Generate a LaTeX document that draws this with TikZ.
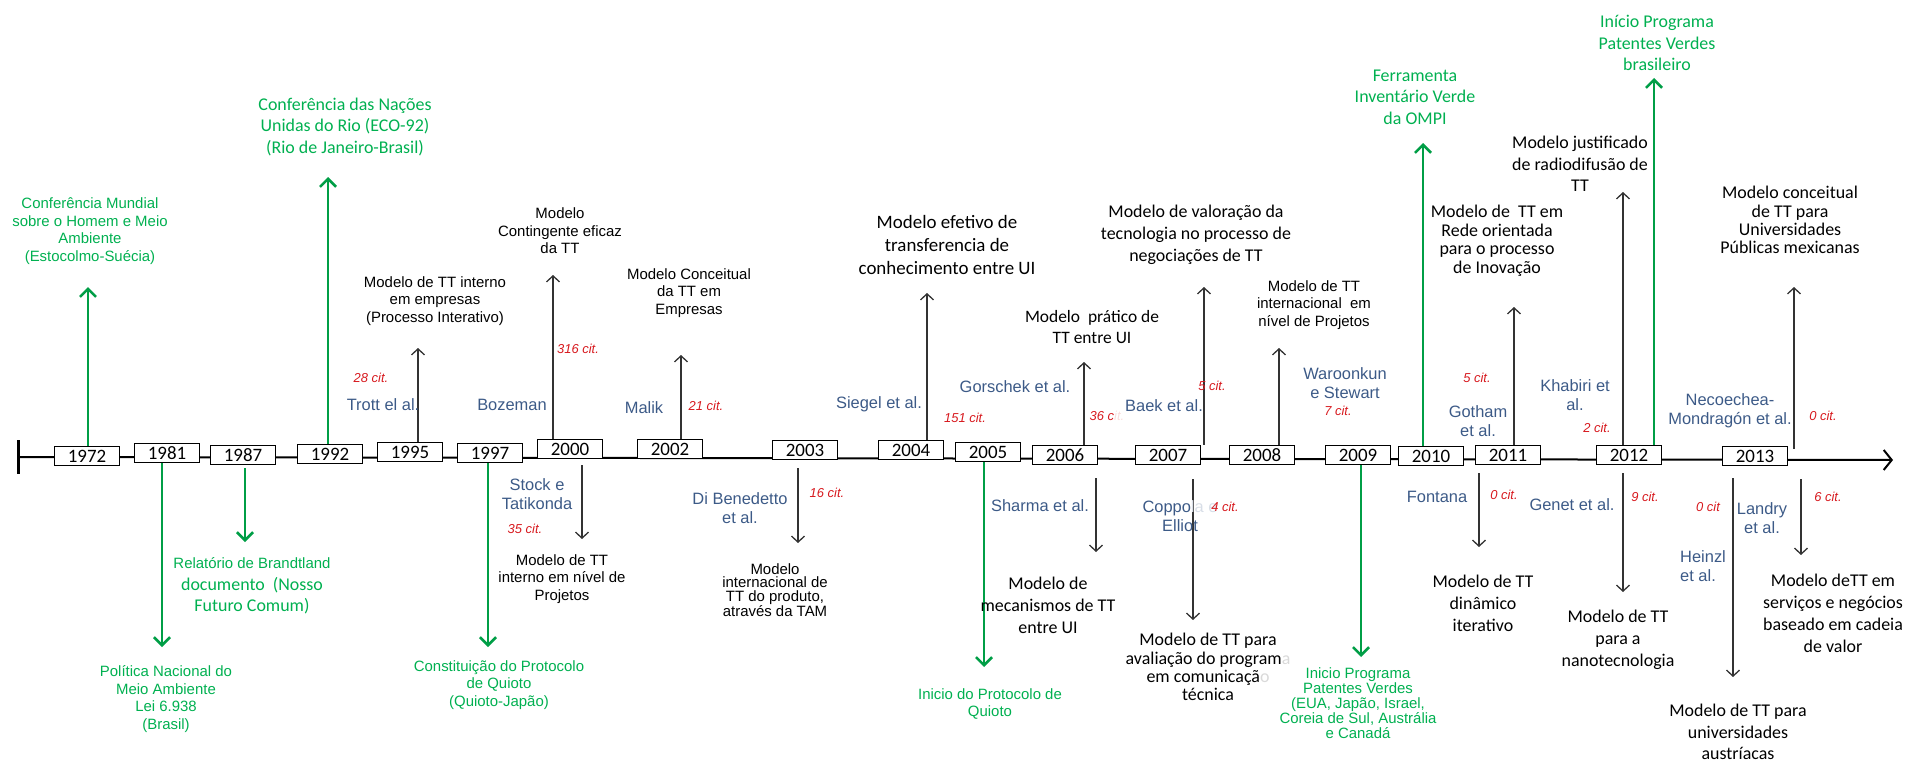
\documentclass[tikz,border=0pt]{standalone}
\usepackage{fontspec}
\usepackage{xcolor}
\usetikzlibrary{arrows.meta}
\newfontfamily\arialf{Liberation Sans}
\newfontfamily\calf{Carlito}
\definecolor{evgreen}{RGB}{0,176,80}
\definecolor{arrgreen}{RGB}{0,158,70}
\definecolor{autblue}{RGB}{60,90,135}
\definecolor{citred}{RGB}{215,25,30}

\begin{document}
\begin{tikzpicture}[x=1bp,y=-1bp]
    \tikzstyle{every node}=[inner sep=0pt]
    \tikzstyle{yearbox}=[draw, line width=1.2bp, fill=white, minimum width=65bp, minimum height=19bp, font=\calf\fontsize{19}{20}\selectfont]
    \tikzstyle{grnarr}=[-{Straight Barb[length=8bp,width=16bp]}, line width=2.6bp, draw=arrgreen]
    \tikzstyle{blkarr}=[-{Straight Barb[length=6bp,width=13bp]}, line width=1.3bp, draw=black!80]
    \tikzstyle{grntxt}=[text=evgreen, align=center, font=\arialf\fontsize{15}{17.5}\selectfont]
    \tikzstyle{grncal}=[text=evgreen, align=center, font=\calf\fontsize{18}{21.5}\selectfont]
    \tikzstyle{modtxt}=[align=center, font=\arialf\fontsize{15}{17.5}\selectfont]
    \tikzstyle{modcal}=[align=center, font=\calf\fontsize{18}{22}\selectfont]
    \tikzstyle{modsml}=[align=center, font=\calf\fontsize{18}{18.3}\selectfont]
    \tikzstyle{autor}=[text=autblue, align=center, font=\arialf\fontsize{16.5}{19.5}\selectfont]
    \tikzstyle{cit}=[text=citred, font=\arialf\itshape\fontsize{13}{15}\selectfont]

    \useasboundingbox (0,0) rectangle (1908,762);

    \coordinate (axL) at (18,457);
    \coordinate (axR) at (1893,460);
    \draw[line width=2bp, -{Straight Barb[length=8bp,width=20bp]}] (axL) -- (axR);
    \draw[line width=3bp] ([yshift=17bp]axL) -- ([yshift=-17bp]axL);

    \foreach \yr/\xx/\yy in {1972/87/456, 1981/167/453, 1987/243/455, 1992/330/454, 1995/410/452,
        1997/490/453, 2000/570/449, 2002/670/449, 2003/805/450, 2004/911/450, 2005/988/452,
        2006/1065/455, 2007/1168/455, 2008/1262/455, 2009/1358/455, 2010/1431/456,
        2011/1508/455, 2012/1629/455, 2013/1755/456}
        \node[yearbox] (y\yr) at (\xx,\yy) {\yr};

    \node[grntxt] (ev1972) at (90,231) {Conferência Mundial\\sobre o Homem e Meio\\Ambiente\\(Estocolmo-Suécia)};
    \node[grntxt] (ev1981) at (166,699) {Política Nacional do\\Meio Ambiente\\Lei 6.938\\(Brasil)};
    \node[grncal] (ev1987) at (252,586) {{\arialf\fontsize{15}{17.5}\selectfont Relatório de Brandtland}\\documento~~(Nosso\\Futuro Comum)};
    \node[grncal] (ev1992) at (345,127) {Conferência das Nações\\Unidas do Rio (ECO-92)\\(Rio de Janeiro-Brasil)};
    \node[grntxt] (ev1997) at (499,685) {Constituição do Protocolo\\de Quioto\\(Quioto-Japão)};
    \node[grntxt] (ev2005) at (990,704) {Inicio do Protocolo de\\Quioto};
    \node[grntxt, font=\arialf\fontsize{15}{15}\selectfont] (ev2009) at (1358,703) {Inicio Programa\\Patentes Verdes\\(EUA, Japão, Israel,\\Coreia de Sul, Austrália\\e Canadá};
    \node[grncal] (ev2010) at (1415,97) {Ferramenta\\Inventário Verde\\da OMPI};
    \node[grncal] (ev2012) at (1657,43) {Início Programa\\Patentes Verdes\\brasileiro};

    \coordinate (t1972) at (88,287);
    \coordinate (t1981) at (162,647);
    \coordinate (t1987) at (245,542);
    \coordinate (t1992) at (328,177);
    \coordinate (t1997) at (488,647);
    \coordinate (t2005) at (984,667);
    \coordinate (t2009) at (1361,657);
    \coordinate (t2010) at (1423,143);
    \coordinate (t2012) at (1654,78);
    \draw[grnarr] (y1972.north -| t1972) -- (t1972);
    \draw[grnarr] (y1981.south -| t1981) -- (t1981);
    \draw[grnarr, shorten <=3bp] (y1987.south -| t1987) -- (t1987);
    \draw[grnarr] (y1992.north -| t1992) -- (t1992);
    \draw[grnarr] (y1997.south -| t1997) -- (t1997);
    \draw[grnarr] (y2005.south -| t2005) -- (t2005);
    \draw[grnarr] (y2009.south -| t2009) -- (t2009);
    \draw[grnarr] (y2010.north -| t2010) -- (t2010);
    \draw[grnarr] (y2012.north -| t2012) -- (t2012);

    \node[modtxt] (m1995) at (435,301) {Modelo de TT interno\\em empresas\\(Processo Interativo)};
    \node[modtxt] (m2000a) at (560,231) {Modelo\\Contingente eficaz\\da TT};
    \node[modtxt] (m2000b) at (562,579) {Modelo de TT\\interno em nível de\\Projetos};
    \node[modtxt] (m2002) at (689,293) {Modelo Conceitual\\da TT em\\Empresas};
    \node[modtxt, font=\arialf\fontsize{15}{13.5}\selectfont] (m2003) at (775,590) {Modelo\\internacional de\\TT do produto,\\através da TAM};
    \node[modcal, font=\calf\fontsize{19}{23}\selectfont] (m2004) at (947,245) {Modelo efetivo de\\transferencia de\\conhecimento entre UI};
    \node[modcal, font=\calf\fontsize{17.5}{21}\selectfont] (m2006a) at (1092,327) {Modelo~~prático de\\TT entre UI};
    \node[modcal] (m2006b) at (1048,605) {Modelo de\\mecanismos de TT\\entre UI};
    \node[modcal] (m2007a) at (1196,235) {Modelo de valoração da\\tecnologia no processo de\\negociações de TT};
    \node[modsml] (m2007b) at (1208,667) {Modelo de TT para\\avaliação do program\textcolor{black!15}{a}\\em comunicaçã\textcolor{black!15}{o}\\técnica};
    \node[modtxt] (m2008) at (1314,305) {Modelo de TT\\internacional~~em\\nível de Projetos};
    \node[modsml, font=\calf\fontsize{18}{18.6}\selectfont] (m2011a) at (1497,241) {Modelo de~~TT em\\Rede orientada\\para o processo\\de Inovação};
    \node[modcal] (m2011b) at (1483,603) {Modelo de TT\\dinâmico\\iterativo};
    \node[modcal, font=\calf\fontsize{18}{21.5}\selectfont] (m2012a) at (1580,164) {Modelo justificado\\de radiodifusão de\\TT};
    \node[modcal] (m2012b) at (1618,640) {Modelo de TT\\para a\\nanotecnologia};
    \node[modsml] (m2013a) at (1790,220) {Modelo conceitual\\de TT para\\Universidades\\Públicas mexicanas};
    \node[modcal, font=\calf\fontsize{18}{21.5}\selectfont] (m2013b) at (1738,732) {Modelo de TT para\\universidades\\austríacas};
    \node[modcal] (m2013c) at (1833,613) {Modelo deTT em\\serviços e negócios\\baseado em cadeia\\de valor};

    \coordinate (t1995) at (418,348);
    \coordinate (t2000a) at (553,275);
    \coordinate (t2000b) at (582,539);
    \coordinate (t2002) at (681,355);
    \coordinate (t2003) at (798,543);
    \coordinate (t2004) at (927,293);
    \coordinate (t2006a) at (1084,362);
    \coordinate (t2006b) at (1096,552);
    \coordinate (t2007a) at (1204,287);
    \coordinate (t2007b) at (1193,620);
    \coordinate (t2008) at (1279,348);
    \coordinate (t2011a) at (1514,307);
    \coordinate (t2011b) at (1479,547);
    \coordinate (t2012a) at (1623,192);
    \coordinate (t2012b) at (1623,592);
    \coordinate (t2013a) at (1794,287);
    \coordinate (t2013b) at (1733,677);
    \coordinate (t2013c) at (1801,555);
    \draw[blkarr] (y1995.north -| t1995) -- (t1995);
    \draw[blkarr] (y2000.north -| t2000a) -- (t2000a);
    \draw[blkarr, shorten <=6bp] (y2000.south -| t2000b) -- (t2000b);
    \draw[blkarr] (y2002.north -| t2002) -- (t2002);
    \draw[blkarr, shorten <=8bp] (y2003.south -| t2003) -- (t2003);
    \draw[blkarr] (y2004.north -| t2004) -- (t2004);
    \draw[blkarr] (y2006.north -| t2006a) -- (t2006a);
    \draw[blkarr, shorten <=13bp] (y2006.south -| t2006b) -- (t2006b);
    \draw[blkarr] (y2007.north -| t2007a) -- (t2007a);
    \draw[blkarr, shorten <=14bp] (y2007.south -| t2007b) -- (t2007b);
    \draw[blkarr] (y2008.north -| t2008) -- (t2008);
    \draw[blkarr] (y2011.north -| t2011a) -- (t2011a);
    \draw[blkarr, shorten <=8bp] (y2011.south -| t2011b) -- (t2011b);
    \draw[blkarr] (y2012.north -| t2012a) -- (t2012a);
    \draw[blkarr, shorten <=8bp] (y2012.south -| t2012b) -- (t2012b);
    \draw[blkarr, shorten <=-3bp] (y2013.north -| t2013a) -- (t2013a);
    \draw[blkarr, shorten <=12bp] (y2013.south -| t2013b) -- (t2013b);
    \draw[blkarr, shorten <=13bp] (y2013.south -| t2013c) -- (t2013c);

    \node[autor] (a1995) at (383,405) {Trott el al.};
    \node[autor] (a2000a) at (512,405) {Bozeman};
    \node[autor] (a2000b) at (537,494) {Stock e\\Tatikonda};
    \node[autor] (a2002) at (644,408) {Malik};
    \node[autor] (a2003) at (740,508) {Di Benedetto\\et al.};
    \node[autor] (a2004) at (879,404) {Siegel et al.};
    \node[autor] (a2006a) at (1015,387) {Gorschek et al.};
    \node[autor] (a2006b) at (1040,506) {Sharma et al.};
    \node[autor] (a2007a) at (1164,406) {Baek et al.};
    \node[autor] (a2007b) at (1180,516) {Coppo\textcolor{autblue!20}{la e}\\Elliot};
    \node[autor] (a2008) at (1345,383) {Waroonkun\\e Stewart};
    \node[autor] (a2011a) at (1478,421) {Gotham\\et al.};
    \node[autor] (a2011b) at (1437,497) {Fontana};
    \node[autor] (a2012a) at (1575,395) {Khabiri et\\al.};
    \node[autor] (a2012b) at (1572,505) {Genet et al.};
    \node[autor] (a2013a) at (1730,411) {Necoechea-\\Mondragón et al.};
    \node[autor, align=left, anchor=west] (a2013b) at (1680,566) {Heinzl\\et al.};
    \node[autor] (a2013c) at (1762,518) {Landry\\et al.};

    \node[cit] (c1995) at (371,378) {28 cit.};
    \node[cit] (c2000a) at (578,349) {316 cit.};
    \node[cit] (c2000b) at (525,529) {35 cit.};
    \node[cit] (c2002) at (706,406) {21 cit.};
    \node[cit] (c2003) at (827,493) {16 cit.};
    \node[cit] (c2004) at (965,418) {151 cit.};
    \node[cit] (c2006) at (1107,416) {36 c\textcolor{citred!15}{it.}};
    \node[cit] (c2007a) at (1212,386) {5 cit.};
    \node[cit] (c2007b) at (1225,507) {4 cit.};
    \node[cit] (c2008) at (1338,411) {7 cit.};
    \node[cit] (c2011a) at (1477,378) {5 cit.};
    \node[cit] (c2011b) at (1504,495) {0 cit.};
    \node[cit] (c2012a) at (1597,428) {2 cit.};
    \node[cit] (c2012b) at (1645,497) {9 cit.};
    \node[cit] (c2013a) at (1823,416) {0 cit.};
    \node[cit] (c2013b) at (1708,507) {0 cit};
    \node[cit] (c2013c) at (1828,497) {6 cit.};
\end{tikzpicture}
\end{document}
